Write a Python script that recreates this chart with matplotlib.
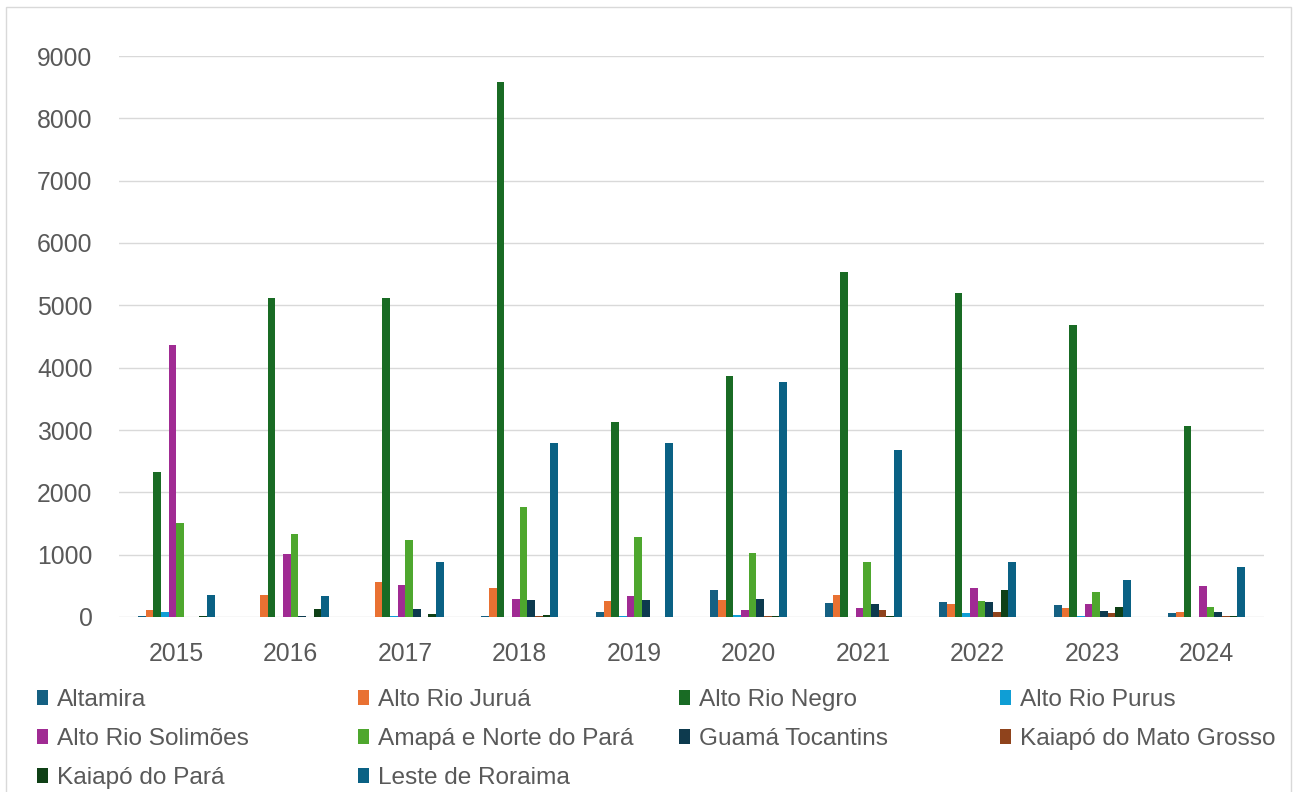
import numpy as np
import matplotlib
matplotlib.use("Agg")
import matplotlib.pyplot as plt
from matplotlib.patches import Rectangle, Patch

plt.rcParams['font.family'] = ['Liberation Sans', 'DejaVu Sans']

years = ['2015', '2016', '2017', '2018', '2019', '2020', '2021', '2022', '2023', '2024']

series_names = [
    'Altamira', 'Alto Rio Juruá', 'Alto Rio Negro', 'Alto Rio Purus',
    'Alto Rio Solimões', 'Amapá e Norte do Pará', 'Guamá Tocantins',
    'Kaiapó do Mato Grosso', 'Kaiapó do Pará', 'Leste de Roraima',
]

altamira = [20, 0, 0, 15, 85, 440, 220, 240, 200, 65]
alto_rio_jurua = [110, 345, 560, 465, 250, 280, 360, 215, 140, 85]
alto_rio_negro = [2320, 5120, 5120, 8580, 3130, 3870, 5540, 5190, 4690, 3060]
alto_rio_purus = [80, 0, 12, 0, 10, 32, 0, 65, 15, 0]
alto_rio_solimoes = [4360, 1015, 510, 295, 335, 118, 145, 460, 215, 490]
amapa_norte_para = [1515, 1335, 1240, 1770, 1285, 1030, 885, 258, 395, 160]
guama_tocantins = [0, 12, 135, 268, 272, 283, 215, 235, 90, 75]
kaiapo_mato_grosso = [0, 0, 0, 15, 0, 10, 112, 86, 70, 15]
kaiapo_para = [20, 133, 55, 25, 0, 10, 15, 433, 160, 15]
leste_roraima = [355, 336, 888, 2795, 2785, 3770, 2685, 888, 590, 802]

series_values = [
    altamira, alto_rio_jurua, alto_rio_negro, alto_rio_purus,
    alto_rio_solimoes, amapa_norte_para, guama_tocantins,
    kaiapo_mato_grosso, kaiapo_para, leste_roraima,
]

colors = [
    '#156082', '#E97132', '#196B24', '#0F9ED5', '#A02B93',
    '#4EA72E', '#0D3A4E', '#8F431C', '#0F4016', '#0A6184',
]

y_ticks = [0, 1000, 2000, 3000, 4000, 5000, 6000, 7000, 8000, 9000]

W, H = 1300, 792
fig = plt.figure(figsize=(W / 100, H / 100), dpi=100)
fig.patch.set_facecolor('white')

left, right, top, bottom = 119, 1264, 56, 617
ax = fig.add_axes([left / W, 1 - bottom / H, (right - left) / W, (bottom - top) / H])

x = np.arange(len(years))
n = len(series_values)
group_width = 0.67
bar_w = group_width / n
handles = []
for i, (vals, col, name) in enumerate(zip(series_values, colors, series_names)):
    offs = -group_width / 2 + bar_w * (i + 0.5)
    ax.bar(x + offs, vals, width=bar_w, color=col, label=name, zorder=3)
    handles.append(Patch(facecolor=col, label=name))

ax.set_xlim(-0.5, len(years) - 0.5)
ax.set_ylim(0, 9000)
ax.set_yticks(y_ticks)
ax.set_yticklabels([str(v) for v in y_ticks])
ax.set_xticks(x)
ax.set_xticklabels(years)
ax.yaxis.grid(True, color='#d9d9d9', linewidth=1.0, zorder=0)
ax.set_axisbelow(True)
for s in ax.spines.values():
    s.set_visible(False)
ax.tick_params(axis='both', length=0, labelsize=17.8, labelcolor='#595959')
ax.tick_params(axis='y', pad=19)
ax.tick_params(axis='x', pad=18)

# chart area border
fig.patches.append(Rectangle((6 / W, -0.05), (1291 - 6) / W, 1 - 7 / H + 0.05,
                             transform=fig.transFigure, fill=False,
                             edgecolor='#d9d9d9', linewidth=1.0))

# legend laid out in four columns, entries in row-major order
col_x = [37, 358, 679, 1000]
for c in range(4):
    hs = handles[c::4]
    fig.legend(handles=hs, loc='upper left',
               bbox_to_anchor=(col_x[c] / W, 1 - 689 / H),
               frameon=False, fontsize=17.6, labelcolor='#595959',
               handlelength=0.45, handleheight=0.6, handletextpad=0.38,
               labelspacing=0.70, borderpad=0, borderaxespad=0)

fig.savefig('out.png', dpi=100, facecolor='white')
